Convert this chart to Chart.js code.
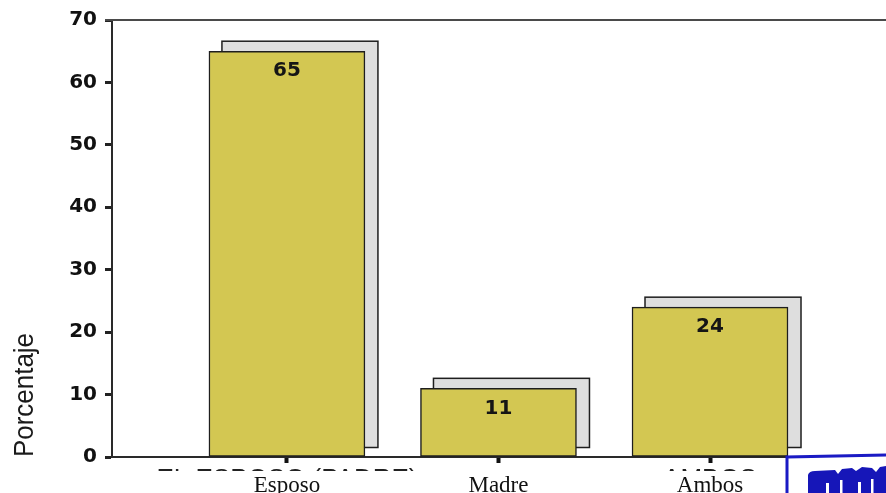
<!DOCTYPE html>
<html><head><meta charset="utf-8">
<script src="https://cdn.jsdelivr.net/npm/chart.js@4.4.0/dist/chart.umd.min.js"></script>
<style>html,body{margin:0;padding:0;background:#fff;overflow:hidden}</style>
</head><body>
<canvas id="c" width="886" height="493"></canvas>
<script>
const categories = ['Esposo', 'Madre', 'Ambos'];
const coveredLabels = ['EL ESPOSO (PADRE)', '', 'AMBOS'];
const values = [65, 11, 24];
const yMin = 0, yMax = 70, yStep = 10;
const yTitle = 'Porcentaje';

const barFill = '#d3c752';
const shadowFill = '#dedede';
const ink = '#1e1e1e';

const shadowPlugin = {
  id: 'shadow',
  beforeDatasetsDraw(chart) {
    const ctx = chart.ctx;
    const meta = chart.getDatasetMeta(0);
    ctx.save();
    meta.data.forEach(el => {
      const p = el.getProps(['x', 'y', 'base', 'width'], true);
      const l = p.x - p.width / 2 + 13, t = p.y - 10, b = p.base - 9;
      ctx.fillStyle = shadowFill;
      ctx.strokeStyle = ink;
      ctx.lineWidth = 1.5;
      ctx.fillRect(l, t, p.width, b - t);
      ctx.strokeRect(l, t, p.width, b - t);
    });
    ctx.restore();
  },
  afterDatasetsDraw(chart) {
    const ctx = chart.ctx;
    const meta = chart.getDatasetMeta(0);
    ctx.save();
    ctx.font = 'bold 20px "DejaVu Sans"';
    ctx.fillStyle = '#151515';
    ctx.textAlign = 'center';
    ctx.textBaseline = 'middle';
    meta.data.forEach((el, i) => {
      const p = el.getProps(['x', 'y'], true);
      ctx.fillText(String(values[i]), p.x, p.y + 20);
    });
    ctx.restore();
  }
};

const decorPlugin = {
  id: 'decor',
  afterDraw(chart) {
    const ctx = chart.ctx, a = chart.chartArea;
    const xs = chart.scales.x;
    ctx.save();
    // top frame line
    ctx.strokeStyle = '#4a4a4a';
    ctx.lineWidth = 2;
    ctx.beginPath();
    ctx.moveTo(a.left - 7, a.top);
    ctx.lineTo(chart.width, a.top);
    ctx.stroke();
    // y axis title
    ctx.save();
    ctx.translate(33, 395);
    ctx.rotate(-Math.PI / 2);
    ctx.font = '27px "Liberation Sans"';
    const w = ctx.measureText(yTitle).width;
    ctx.scale(124 / w, 1);
    ctx.fillStyle = '#1a1a1a';
    ctx.textAlign = 'center';
    ctx.textBaseline = 'alphabetic';
    ctx.fillText(yTitle, 0, 0);
    ctx.restore();
    // partially covered original labels: only their top strip remains visible
    const off = document.createElement('canvas');
    off.width = chart.width; off.height = 40;
    const o = off.getContext('2d');
    o.font = '26px "Liberation Sans"';
    o.fillStyle = '#222';
    o.textAlign = 'center';
    o.textBaseline = 'alphabetic';
    coveredLabels.forEach((t, i) => {
      if (t) o.fillText(t, xs.getPixelForValue(i + 1), 5 + 0.716 * 26);
    });
    ctx.drawImage(off, 0, 4, chart.width, 3.5, 0, 467, chart.width, 3.5);
    // blue stamp frame at bottom right
    ctx.fillStyle = '#fff';
    ctx.fillRect(787, 456, chart.width - 787, chart.height - 456);
    ctx.strokeStyle = '#1a1ac4';
    ctx.lineWidth = 3;
    ctx.beginPath();
    ctx.moveTo(787, chart.height);
    ctx.lineTo(787, 457);
    ctx.lineTo(chart.width, 455);
    ctx.stroke();
    ctx.fillStyle = '#1616b8';
    ctx.beginPath();
    ctx.moveTo(808, chart.height);
    ctx.lineTo(808, 475);
    ctx.quadraticCurveTo(809, 471, 815, 471);
    ctx.lineTo(835, 470);
    ctx.lineTo(838, 474);
    ctx.lineTo(842, 469);
    ctx.lineTo(852, 468);
    ctx.lineTo(856, 471);
    ctx.lineTo(862, 467);
    ctx.lineTo(872, 468);
    ctx.lineTo(876, 472);
    ctx.lineTo(880, 467);
    ctx.lineTo(chart.width, 466);
    ctx.lineTo(chart.width, chart.height);
    ctx.closePath();
    ctx.fill();
    ctx.fillStyle = '#fff';
    [[826, 483, 3, 10], [840, 480, 2.5, 13], [858, 482, 3, 11], [871, 479, 2.5, 14]].forEach(r => ctx.fillRect(r[0], r[1], r[2], r[3]));
    ctx.restore();
  }
};

new Chart(document.getElementById('c'), {
  type: 'bar',
  data: {
    datasets: [{
      data: values.map((v, i) => ({ x: i + 1, y: v })),
      backgroundColor: barFill,
      borderColor: ink,
      borderWidth: 1.5,
      borderSkipped: false,
      barThickness: 156
    }]
  },
  options: {
    responsive: false,
    animation: false,
    layout: { padding: { top: 20, left: 0, right: 0, bottom: 0 } },
    plugins: { legend: { display: false }, tooltip: { enabled: false } },
    scales: {
      x: {
        type: 'linear',
        offset: false,
        grace: 0,
        bounds: 'ticks',
        min: 0.173,
        max: 3.832,
        afterDataLimits(s) { s.min = 0.173; s.max = 3.832; },
        afterFit(s) { s.height = 36; },
        afterBuildTicks(s) { s.ticks = categories.map((c, i) => ({ value: i + 1 })); },
        grid: { offset: false, drawOnChartArea: false, drawTicks: true, tickLength: 6, tickWidth: 4, tickColor: '#111' },
        border: { display: true, color: '#2a2a2a', width: 2 },
        ticks: {
          callback: (v) => categories[Math.round(v) - 1],
          font: { family: '"Liberation Serif"', size: 23 },
          color: '#111',
          padding: 9,
          maxRotation: 0,
          autoSkip: false
        }
      },
      y: {
        min: yMin,
        max: yMax,
        afterFit(s) { s.width = 112; },
        grid: { drawOnChartArea: false, drawTicks: true, tickLength: 7, tickWidth: 3, tickColor: '#222' },
        border: { display: true, color: '#2a2a2a', width: 2 },
        ticks: {
          stepSize: yStep,
          font: { family: '"DejaVu Sans"', size: 20, weight: 'bold' },
          color: '#111',
          padding: 8
        }
      }
    }
  },
  plugins: [shadowPlugin, decorPlugin]
});
</script>
</body></html>
